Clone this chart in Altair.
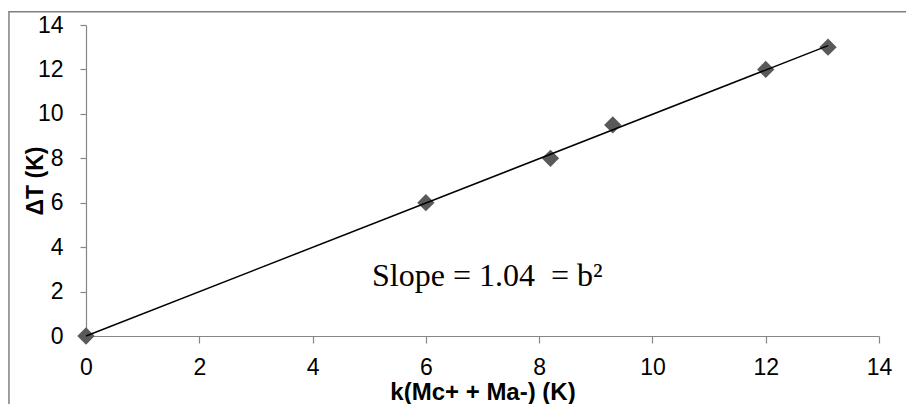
import altair as alt
import numpy as np
import pandas as pd

# data
x_vals = [0.0, 6.0, 8.2, 9.3, 12.0, 13.1]
y_vals = [0.0, 6.0, 8.0, 9.5, 12.0, 13.0]
axis_ticks = [0, 2, 4, 6, 8, 10, 12, 14]
ann_text = ["Slope = 1.04\u00a0 = b\u00b2"]
ann_x = [5.05]
ann_y = [2.25]

pts = pd.DataFrame({"x": x_vals, "y": y_vals})

# linear trendline through the origin (least squares on the points)
xa = np.array(x_vals)
ya = np.array(y_vals)
slope = float((xa * ya).sum() / (xa * xa).sum())
trend = pd.DataFrame({"x": [0.0, xa.max()], "y": [0.0, slope * xa.max()]})
ann = pd.DataFrame({"x": ann_x, "y": ann_y, "t": ann_text})

xscale = alt.Scale(domain=[0, 14], nice=False, zero=False)
yscale = alt.Scale(domain=[0, 14], nice=False, zero=False)

x_axis = alt.Axis(values=axis_ticks, format="d", title="k(Mc+ + Ma-) (K)", grid=False,
                  labelFlush=False, labelOverlap=False,
                  domainColor="#868686", tickColor="#868686", tickSize=7, tickWidth=1.2,
                  domainWidth=1.2,
                  labelFont="Liberation Sans", labelFontSize=23, labelColor="#000000",
                  labelPadding=13, titleFont="Liberation Sans", titleFontSize=24,
                  titleFontWeight="bold", titleColor="#000000",
                  titleY=44, titleBaseline="top")
y_axis = alt.Axis(values=axis_ticks, format="d", title="\u0394T (K)", grid=False,
                  labelFlush=False, labelOverlap=False,
                  domainColor="#868686", tickColor="#868686", tickSize=6, tickWidth=1.2,
                  domainWidth=1.2,
                  labelFont="Liberation Sans", labelFontSize=23, labelColor="#000000",
                  labelPadding=17, titleFont="Liberation Sans", titleFontSize=23,
                  titleFontWeight="bold", titleColor="#000000",
                  titleX=-51, titleY=155.5, titleAngle=-90, titleAlign="center",
                  titleBaseline="middle")

# outer chart frame (decoration; right and bottom edges fall outside the page)
frame_df = pd.DataFrame({"x0": [-1.36], "x1": [16.5], "y0": [14.6], "y1": [-4.5]})
frame = alt.Chart(frame_df).mark_rect(
    fill=None, stroke="#7f7f7f", strokeWidth=1.5, clip=False
).encode(
    x=alt.X("x0:Q", scale=xscale),
    x2="x1:Q",
    y=alt.Y("y0:Q", scale=yscale),
    y2="y1:Q",
)

points = alt.Chart(pts).mark_point(
    shape="diamond", filled=True, size=300, color="#595959", opacity=1
).encode(
    x=alt.X("x:Q", scale=xscale, axis=x_axis),
    y=alt.Y("y:Q", scale=yscale, axis=y_axis),
)

line = alt.Chart(trend).mark_line(color="#000000", strokeWidth=1.5).encode(
    x=alt.X("x:Q", scale=xscale),
    y=alt.Y("y:Q", scale=yscale),
)

text = alt.Chart(ann).mark_text(
    font="Liberation Serif", fontSize=32, align="left", baseline="alphabetic",
    color="#000000"
).encode(
    x=alt.X("x:Q", scale=xscale),
    y=alt.Y("y:Q", scale=yscale),
    text="t:N",
)

chart = alt.layer(frame, points, line, text).properties(
    width=793, height=311,
    autosize=alt.AutoSizeParams(type="none"),
    padding={"left": 78, "top": 17, "right": 27, "bottom": 68},
    background="white",
).configure_view(stroke=None)

chart.save("out.html", embed_options={"renderer": "svg", "actions": False})
